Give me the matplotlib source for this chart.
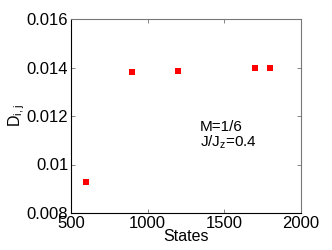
import matplotlib
matplotlib.use('Agg')
import matplotlib.pyplot as plt

plt.rcParams['font.family'] = ['Liberation Sans', 'DejaVu Sans']
plt.rcParams['mathtext.fontset'] = 'custom'
plt.rcParams['mathtext.rm'] = 'Liberation Sans'
plt.rcParams['mathtext.it'] = 'Liberation Sans'

states = [600, 900, 1200, 1700, 1800]
d_ij = [0.00928, 0.01381, 0.01386, 0.01396, 0.01398]

xticks = [500, 1000, 1500, 2000]
yticks = [0.008, 0.01, 0.012, 0.014, 0.016]
yticklabels = ['0.008', '0.01', '0.012', '0.014', '0.016']

fig = plt.figure(figsize=(3.32, 2.5), dpi=100)
ax = fig.add_axes([71/332, 1 - 213/250, 230/332, 194/250])

ax.plot(states, d_ij, 's', color='red', markersize=4.3, markeredgewidth=0)

ax.set_xlim(500, 2000)
ax.set_ylim(0.008, 0.016)
ax.set_xticks(xticks)
ax.set_yticks(yticks)
ax.set_yticklabels(yticklabels)
ax.tick_params(direction='in', length=3, width=0.5, labelsize=12, pad=2,
               top=True, right=True, colors='#555555', labelcolor='black')

for s in ['top', 'right']:
    ax.spines[s].set_color('#777777')
for s in ['left', 'bottom']:
    ax.spines[s].set_color('black')
for s in ax.spines.values():
    s.set_linewidth(0.8)

ax.set_xlabel('States', fontsize=11.5, labelpad=-1)
ax.set_ylabel(r'D$_{\rm i,j}$', fontsize=11.5, labelpad=0)

ax.text(1340, 0.01155, 'M=1/6', fontsize=11, va='center', ha='left')
ax.text(1340, 0.01090, r'J/J$_{\rm z}$=0.4', fontsize=11, va='center', ha='left')

fig.savefig('out.png', dpi=100)
